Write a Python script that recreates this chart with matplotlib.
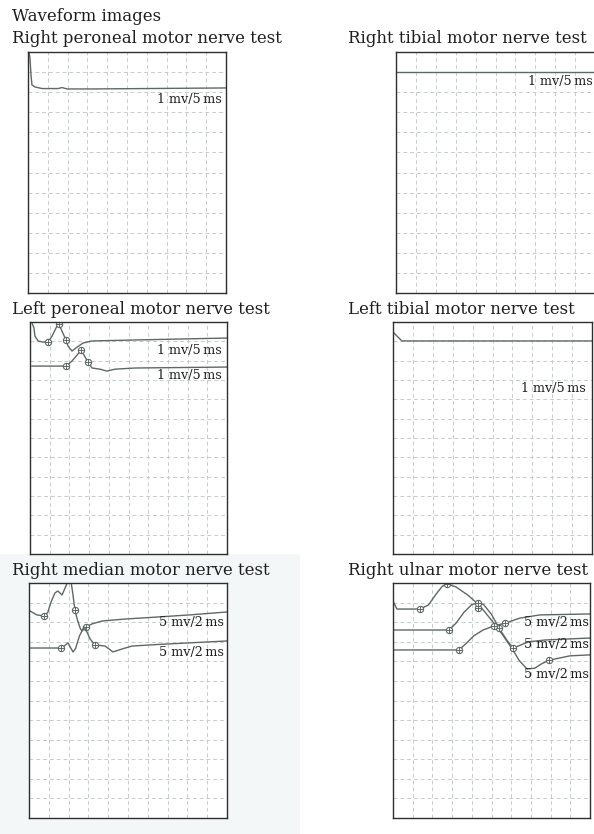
import matplotlib
matplotlib.use("Agg")
import matplotlib.pyplot as plt

W, H = 594, 834
plt.rcParams["font.family"] = ["DejaVu Serif"]

TRACE = "#5f6866"
GRID = "#c8cccc"

# titulos de cada panel
titulos = ["Right peroneal motor nerve test", "Right tibial motor nerve test",
           "Left peroneal motor nerve test", "Left tibial motor nerve test",
           "Right median motor nerve test", "Right ulnar motor nerve test"]

# trazos (x en divisiones de tiempo, y en divisiones hacia abajo)
rper_x = [0.05, 0.1, 0.15, 0.2, 0.35, 0.71, 1.52, 1.72, 1.97, 3.23, 10]
rper_y = [0.0, 0.3, 1.14, 1.64, 1.74, 1.82, 1.82, 1.77, 1.84, 1.84, 1.79]

rtib_x = [0, 10]
rtib_y = [1.0, 1.0]

lper1_x = [0.1, 0.2, 0.25, 0.41, 0.66, 0.91, 1.12, 1.37, 1.47, 1.62, 1.83, 1.93, 2.13, 2.39, 2.69, 3.15, 5.33, 10]
lper1_y = [0.05, 0.31, 0.73, 0.98, 1.04, 1.04, 0.73, 0.21, 0.1, 0.47, 0.93, 1.24, 1.5, 1.3, 1.09, 0.98, 0.93, 0.83]
lper1_mx = [0.91, 1.47, 1.83]
lper1_my = [1.04, 0.1, 0.93]

lper2_x = [0.1, 1.83, 2.13, 2.39, 2.59, 2.74, 2.94, 3.15, 3.55, 3.91, 4.31, 5.33, 10]
lper2_y = [2.28, 2.28, 2.02, 1.71, 1.45, 1.71, 2.07, 2.38, 2.44, 2.54, 2.44, 2.38, 2.33]
lper2_mx = [1.83, 2.59, 2.94]
lper2_my = [2.28, 1.45, 2.07]

ltib_x = [0.0, 0.05, 0.25, 0.45, 10]
ltib_y = [0.55, 0.57, 0.78, 0.98, 0.98]

rmed1_x = [0.05, 0.4, 0.76, 0.95, 1.1, 1.31, 1.46, 1.67, 1.82, 1.97, 2.12, 2.22, 2.32, 2.45, 2.6, 2.68, 2.88, 3.18, 3.69, 4.85, 6.6, 8.1, 10]
rmed1_y = [1.43, 1.63, 1.68, 1.5, 1.0, 0.51, 0.41, 0.61, 0.26, -0.1, -0.1, 0.6, 1.38, 1.9, 2.35, 2.45, 2.24, 2.09, 1.94, 1.84, 1.73, 1.63, 1.48]
rmed1_mx = [0.76, 2.32, 2.88]
rmed1_my = [1.68, 1.38, 2.24]

rmed2_x = [0.05, 1.46, 1.62, 1.8, 1.97, 2.1, 2.22, 2.35, 2.55, 2.78, 2.95, 3.08, 3.33, 3.84, 4.24, 4.7, 5.2, 6.5, 10]
rmed2_y = [3.32, 3.32, 3.32, 3.2, 3.06, 3.3, 3.52, 3.35, 2.7, 2.24, 2.55, 2.85, 3.16, 3.22, 3.52, 3.37, 3.22, 3.14, 2.96]
rmed2_mx = [1.62, 3.33]
rmed2_my = [3.32, 3.16]

ulnA_x = [0.0, 0.2, 1.37, 1.8, 2.2, 2.5, 2.74, 3.2, 3.8, 4.31, 4.6, 5.23, 5.6, 6.09, 6.4, 6.8, 7.2, 7.5, 7.9, 8.98, 10]
ulnA_y = [0.92, 1.33, 1.33, 1.12, 0.55, 0.17, 0.05, 0.2, 0.62, 1.07, 1.4, 2.19, 2.7, 3.42, 3.95, 4.39, 4.35, 4.15, 3.95, 3.72, 3.67]
ulnA_mx = [1.37, 2.74, 4.31, 7.9]
ulnA_my = [1.33, 0.05, 1.3, 3.95]

ulnB_x = [0.0, 2.84, 3.2, 3.6, 4.0, 4.31, 4.6, 5.0, 5.38, 5.8, 6.09, 6.4, 6.9, 7.72, 10]
ulnB_y = [2.4, 2.4, 2.05, 1.5, 1.1, 1.02, 1.1, 1.6, 2.3, 2.95, 3.32, 3.2, 3.0, 2.91, 2.81]
ulnB_mx = [2.84, 4.31, 5.38, 6.09]
ulnB_my = [2.4, 1.02, 2.3, 3.32]

ulnC_x = [0.0, 3.35, 3.7, 4.1, 4.57, 5.13, 5.69, 6.45, 7.46, 10]
ulnC_y = [3.42, 3.42, 3.1, 2.7, 2.4, 2.19, 2.05, 1.79, 1.63, 1.58]
ulnC_mx = [3.35, 5.13, 5.7]
ulnC_my = [3.42, 2.19, 2.05]

# escalas de cada trazo
esc_1 = "1 mv/5\u2009ms"
esc_5 = "5 mv/2\u2009ms"

fig = plt.figure(figsize=(W / 100, H / 100), dpi=100)
fig.patch.set_facecolor("white")
# tinte del escaneo abajo a la izquierda
fig.patches.append(plt.Rectangle((0, 0), 300 / W, 280 / H, transform=fig.transFigure,
                                 facecolor="#f3f7f8", edgecolor="none", zorder=-10))


def panel(left, top, right, bottom):
    ax = fig.add_axes([left / W, 1 - bottom / H, (right - left) / W, (bottom - top) / H])
    ax.set_xlim(0, 10)
    ax.set_ylim(12, 0)
    ax.set_xticks(range(11))
    ax.set_yticks(range(13))
    ax.tick_params(length=0, labelbottom=False, labelleft=False)
    ax.grid(True, color=GRID, linestyle=(0, (4, 3)), linewidth=0.7)
    ax.set_facecolor("white")
    for s in ax.spines.values():
        s.set_color("#2e2e2e")
        s.set_linewidth(1.0)
    return ax


def traza(ax, x, y, mx=None, my=None):
    ax.plot(x, y, color=TRACE, lw=1.0)
    if mx:
        ax.plot(mx, my, "o", ms=4.5, mfc="white", mec=TRACE, mew=0.8)
        ax.plot(mx, my, "+", ms=4.5, color=TRACE, mew=0.7)


def texto(ax, x, y, s):
    ax.text(x, y, s, ha="right", va="center", fontsize=9.2, color="#1e1e1e")


fig.text(12 / W, 1 - 21 / H, "Waveform images", fontsize=11.9, color="#1e1e1e", va="baseline")
bases = [43, 43, 314, 314, 575, 575]
lefts = [12, 348, 12, 348, 12, 348]
for t, b, l in zip(titulos, bases, lefts):
    fig.text(l / W, 1 - b / H, t, fontsize=11.9, color="#1e1e1e", va="baseline")

ax1 = panel(28, 52, 226, 293)
traza(ax1, rper_x, rper_y)
texto(ax1, 9.8, 2.39, esc_1)

ax2 = panel(396, 52, 595, 293)
traza(ax2, rtib_x, rtib_y)
texto(ax2, 9.9, 1.49, esc_1)

ax3 = panel(30, 322, 227, 554)
traza(ax3, lper1_x, lper1_y, lper1_mx, lper1_my)
traza(ax3, lper2_x, lper2_y, lper2_mx, lper2_my)
texto(ax3, 9.75, 1.45, esc_1)
texto(ax3, 9.75, 2.75, esc_1)

ax4 = panel(393, 322, 592, 554)
traza(ax4, ltib_x, ltib_y)
texto(ax4, 9.7, 3.42, esc_1)

ax5 = panel(29, 583, 227, 818)
traza(ax5, rmed1_x, rmed1_y, rmed1_mx, rmed1_my)
traza(ax5, rmed2_x, rmed2_y, rmed2_mx, rmed2_my)
texto(ax5, 9.85, 2.04, esc_5)
texto(ax5, 9.85, 3.57, esc_5)

ax6 = panel(393, 583, 590, 818)
traza(ax6, ulnA_x, ulnA_y, ulnA_mx, ulnA_my)
traza(ax6, ulnB_x, ulnB_y, ulnB_mx, ulnB_my)
traza(ax6, ulnC_x, ulnC_y, ulnC_mx, ulnC_my)
texto(ax6, 9.95, 2.04, esc_5)
texto(ax6, 9.95, 3.16, esc_5)
texto(ax6, 9.95, 4.69, esc_5)

plt.savefig("out.png", dpi=100)
